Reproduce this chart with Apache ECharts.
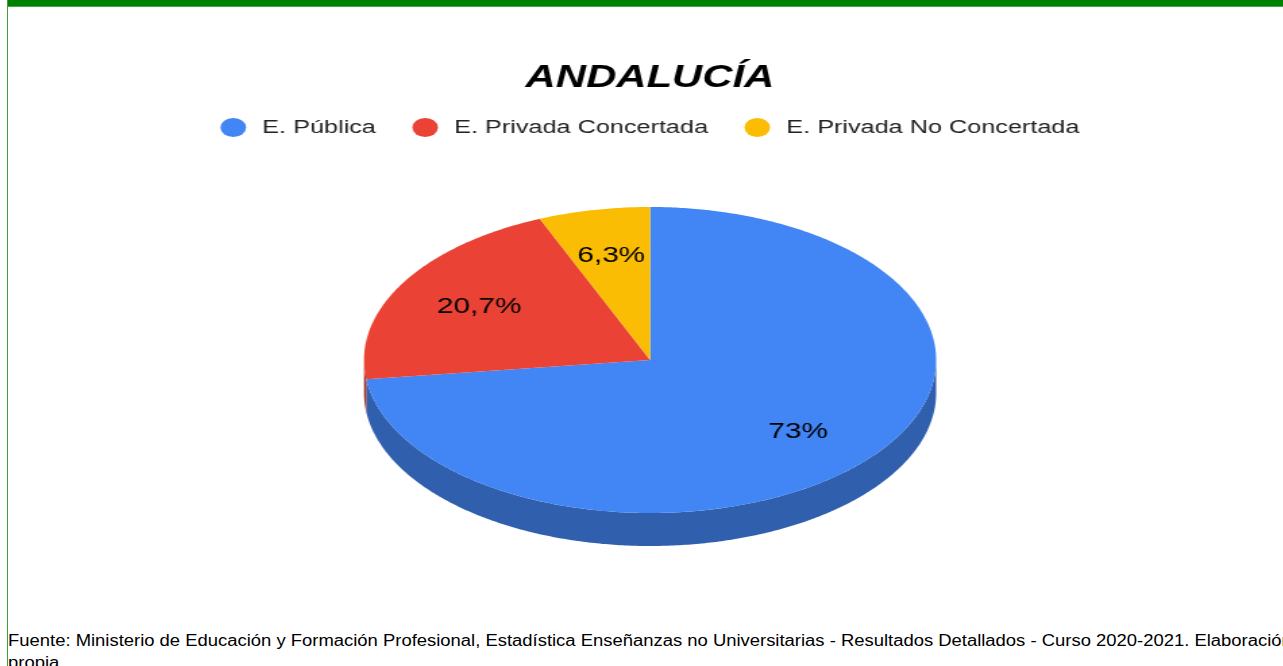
<!DOCTYPE html>
<html>
<head>
<meta charset="utf-8">
<script src="https://cdn.jsdelivr.net/npm/echarts@6/dist/echarts.min.js"></script>
<style>
body { margin: 0; overflow: hidden; background: #fff; font-family: Arial, "Liberation Sans", sans-serif; }
#barra { position: absolute; left: 7px; top: 0; width: 1276px; height: 6px; background: #008000; border-bottom: 1px solid #46a346; }
#borde { position: absolute; left: 7px; top: 0; width: 1px; height: 666px; background: #3f9f3f; }
#main { position: absolute; left: 8px; top: 0; width: 951px; height: 620px; transform: scaleX(1.35); transform-origin: 0 0; }
#fuente { position: absolute; left: 8px; top: 630px; width: 1130px; font-size: 16px; line-height: 22px; color: #000; transform: scaleX(1.152); transform-origin: 0 0; }
</style>
</head>
<body>
<div id="barra"></div>
<div id="borde"></div>
<div id="main"></div>
<div id="fuente">Fuente: Ministerio de Educación y Formación Profesional, Estadística Enseñanzas no Universitarias - Resultados Detallados - Curso 2020-2021. Elaboración propia</div>
<script>
var categorias = ['E. Pública', 'E. Privada Concertada', 'E. Privada No Concertada'];
var valores = [73, 20.7, 6.3];
var etiquetas = ['73%', '20,7%', '6,3%'];

var colores = ['#4285f4', '#ea4335', '#fbbc04'];
var coloresLado = ['#2f5fad', '#a9322a', '#b48800'];

var myChart = echarts.init(document.getElementById('main'));

// pastel "3D": elipse con grosor
var cx = 475.6, cy = 360, rx = 211.9, ry = 153, fondo = 33;
var total = valores.reduce(function (a, b) { return a + b; }, 0);

function punto(t, dy) {
    return [cx + rx * Math.sin(t), cy - ry * Math.cos(t) + dy];
}
function arco(a, b, dy) {
    var pts = [], n = Math.max(2, Math.ceil((b - a) / 0.01));
    for (var k = 0; k <= n; k++) pts.push(punto(a + (b - a) * k / n, dy));
    return pts;
}

function porcion(i) {
    return function (params, api) {
        var antes = 0;
        for (var k = 0; k < i; k++) antes += valores[k];
        var a0 = antes / total * 2 * Math.PI;
        var a1 = (antes + api.value(0)) / total * 2 * Math.PI;
        var hijos = [];
        // lado visible (mitad delantera)
        var s = Math.max(a0, Math.PI / 2), e = Math.min(a1, 3 * Math.PI / 2);
        if (e > s) {
            var pts = arco(s, e, 0).concat(arco(s, e, fondo).reverse());
            hijos.push({ type: 'polygon', z2: 1, shape: { points: pts }, style: { fill: coloresLado[i] } });
        }
        hijos.push({
            type: 'polygon', z2: 10,
            shape: { points: [[cx, cy]].concat(arco(a0, a1, 0)) },
            style: { fill: colores[i] }
        });
        var m = (a0 + a1) / 2, p = [cx + rx * 0.69 * Math.sin(m), cy - ry * 0.7 * Math.cos(m) + 1];
        hijos.push({
            type: 'text', z2: 20, x: p[0], y: p[1],
            style: { text: etiquetas[i], fill: '#000', font: '22px Arial, "Liberation Sans", sans-serif', align: 'center', verticalAlign: 'middle' }
        });
        return { type: 'group', children: hijos };
    };
}

myChart.setOption({
    animation: false,
    title: {
        text: 'ANDALUCÍA',
        left: 'center',
        top: 58,
        textStyle: { fontSize: 31, fontWeight: 'bold', fontStyle: 'italic', color: '#000', fontFamily: 'Arial, "Liberation Sans", sans-serif' }
    },
    legend: {
        data: categorias,
        top: 113,
        left: 'center',
        icon: 'circle',
        itemWidth: 19,
        itemHeight: 19,
        itemGap: 27,
        textStyle: { fontSize: 18.7, color: '#222', padding: [0, 0, 0, 7], fontFamily: 'Arial, "Liberation Sans", sans-serif' }
    },
    series: categorias.map(function (nombre, i) {
        return {
            name: nombre,
            type: 'custom',
            coordinateSystem: 'none',
            itemStyle: { color: colores[i] },
            renderItem: porcion(i),
            data: [valores[i]]
        };
    })
});
</script>
</body>
</html>
